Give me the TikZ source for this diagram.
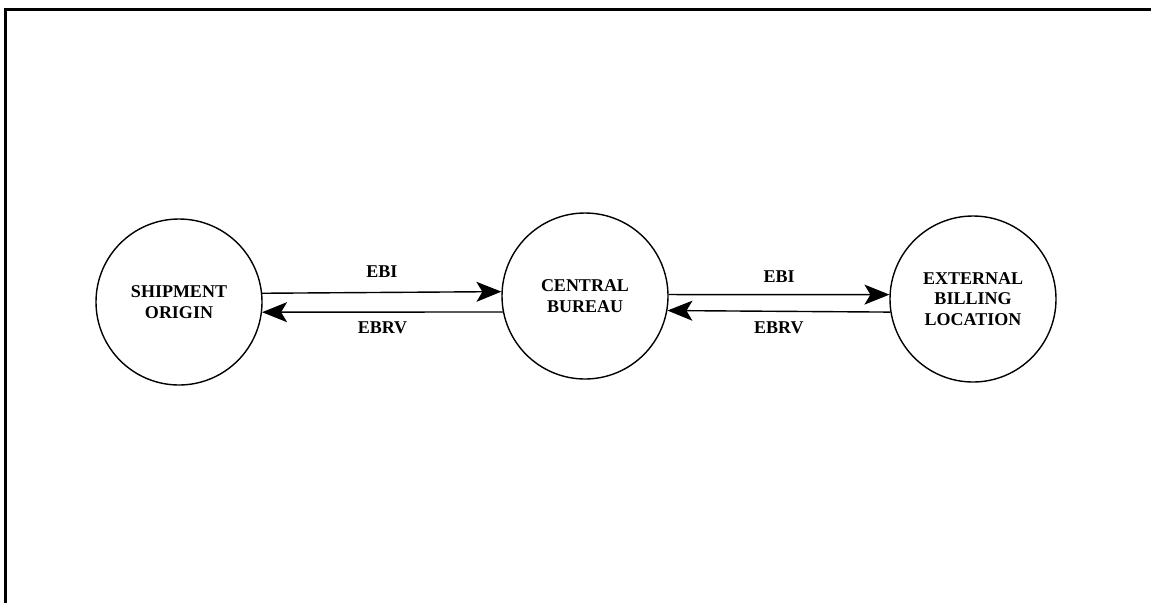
\documentclass[tikz,border=0pt]{standalone}
\usepackage{fontspec}
\setmainfont{Liberation Serif}
\usepackage{tikz}
\usetikzlibrary{arrows.meta}

\begin{document}
\begin{tikzpicture}[
        x=1pt, y=-1pt,
        site/.style={draw, circle, line width=1.4pt, minimum size=166pt, inner sep=0pt,
            align=center, font=\fontsize{18}{20.5}\selectfont\bfseries},
        flow/.style={-{Stealth[length=25pt, width=20pt, inset=6pt]}, line width=1.4pt},
        tag/.style={font=\fontsize{18}{20.5}\selectfont\bfseries}
    ]
        \useasboundingbox (0,0) rectangle (1151,603);
        % Rahmen
        \draw[line width=3pt] (5,603) -- (5,9) -- (1151,9);

        % Knoten
        \node[site] (so)  at (179,302) {SHIPMENT\\ORIGIN};
        \node[site] (cb)  at (585,296) {CENTRAL\\BUREAU};
        \node[site] (ebl) at (973,299) {EXTERNAL\\BILLING\\LOCATION};

        % Fluesse
        \draw[flow] (so.6.2) -- (cb.177.9) node[tag, midway, above=11pt] {EBI};
        \draw[flow] (cb.191.8) -- (so.-7.6) node[tag, midway, below=6pt] {EBRV};
        \draw[flow] (cb.1.4) -- (ebl.177.2) node[tag, midway, above=8pt] {EBI};
        \draw[flow] (ebl.189) -- (cb.-10.4) node[tag, midway, below=6pt] {EBRV};
    \end{tikzpicture}
\end{document}
